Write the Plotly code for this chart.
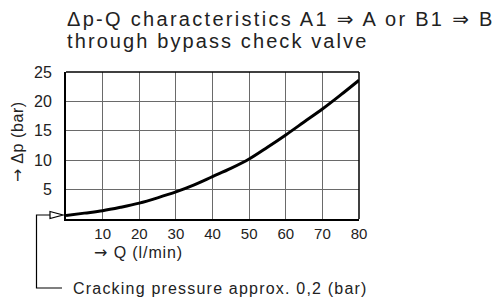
import plotly.graph_objects as go

# Data
flow_q = [0, 5, 10, 15, 20, 25, 30, 35, 40, 45, 50, 55, 60, 65, 70, 75, 80]
delta_p = [0.6, 1.0, 1.4, 2.0, 2.7, 3.6, 4.6, 5.8, 7.2, 8.6, 10.2, 12.2, 14.3, 16.5, 18.7, 21.1, 23.6]
x_ticks = [10, 20, 30, 40, 50, 60, 70, 80]
y_ticks = [5, 10, 15, 20, 25]

W, H = 496, 301
L, R, T, B = 66, 359, 72, 219


def px(xp):
    return (xp - L) / (R - L)


def py(yp):
    return (B - yp) / (B - T)


FONT = "Liberation Sans, Arial, sans-serif"
TXT = "#222222"
ARR = '<span style="font-family:DejaVu Sans">→</span>'
DARR = '<span style="font-family:DejaVu Sans">⇒</span>'

fig = go.Figure()
fig.add_trace(go.Scatter(x=flow_q, y=delta_p, mode="lines",
                         line=dict(color="black", width=3, shape="spline", smoothing=1.0),
                         hoverinfo="skip", showlegend=False, cliponaxis=False))

grid = "#6a6a6a"
fig.update_xaxes(range=[0, 80], tickvals=x_ticks, showgrid=True, gridcolor=grid, gridwidth=1.2,
                 showline=True, linecolor="black", linewidth=2, mirror=False,
                 ticks="", ticklabelstandoff=0, zeroline=False,
                 tickfont=dict(family=FONT, size=15, color=TXT), fixedrange=True)
fig.update_yaxes(range=[0, 25], tickvals=y_ticks, showgrid=True, gridcolor=grid, gridwidth=1.2,
                 showline=True, linecolor="black", linewidth=2, mirror=False,
                 ticks="", ticklabelstandoff=9, zeroline=False,
                 tickfont=dict(family=FONT, size=16, color=TXT), fixedrange=True)

shapes = [
    # top and right frame
    dict(type="line", xref="paper", yref="paper", x0=0, x1=1, y0=1, y1=1, line=dict(color="black", width=1.5)),
    dict(type="line", xref="paper", yref="paper", x0=1, x1=1, y0=0, y1=1, line=dict(color="black", width=1.5)),
    # cracking pressure leader
    dict(type="path", xref="paper", yref="paper",
         path=f"M {px(62)} {py(288)} L {px(36.5)} {py(288)} L {px(36.5)} {py(215)} L {px(50)} {py(215)}",
         line=dict(color="black", width=1.2)),
    dict(type="path", xref="paper", yref="paper",
         path=f"M {px(50)} {py(211.5)} L {px(63)} {py(215)} L {px(50)} {py(218.5)} Z",
         line=dict(color="black", width=1.2), fillcolor="white"),
]

annotations = [
    dict(text=f"Δp-Q characteristics A1 {DARR} A or B1 {DARR} B",
         xref="paper", yref="paper", x=px(65), y=py(19), xanchor="left", yanchor="middle",
         align="left", showarrow=False, font=dict(family=FONT, size=20, color=TXT)),
    dict(text="through bypass check valve",
         xref="paper", yref="paper", x=px(65), y=py(41), xanchor="left", yanchor="middle",
         align="left", showarrow=False, font=dict(family=FONT, size=20, color=TXT)),
    dict(text=f"{ARR} Δp (bar)", xref="paper", yref="paper", x=px(17), y=py(142),
         textangle=-90, showarrow=False, xanchor="center", yanchor="middle",
         font=dict(family=FONT, size=16, color=TXT)),
    dict(text=f"{ARR} Q (l/min)", xref="paper", yref="paper", x=px(92), y=py(252),
         xanchor="left", yanchor="middle", showarrow=False, align="left",
         font=dict(family=FONT, size=16, color=TXT)),
    dict(text="Cracking pressure approx. 0,2 (bar)", xref="paper", yref="paper", x=px(71), y=py(288),
         xanchor="left", yanchor="middle", showarrow=False, align="left",
         font=dict(family=FONT, size=16, color=TXT)),
]

fig.update_layout(width=W, height=H, margin=dict(l=L, r=W - R, t=T, b=H - B, pad=0),
                  paper_bgcolor="white", plot_bgcolor="white",
                  shapes=shapes, annotations=annotations, showlegend=False)

# widen the tracking of the annotation texts to match the spaced-out lettering
post = """
document.body.style.margin='0';document.body.style.overflow='hidden';
var sp=['2.3px','2.1px','0.6px','0.9px','1.2px'];
document.querySelectorAll('text.annotation-text').forEach(function(t,i){
  if(i<sp.length){t.setAttribute('letter-spacing',sp[i]);}
});
"""
fig.write_html("out.html", config={"displayModeBar": False}, post_script=post)
